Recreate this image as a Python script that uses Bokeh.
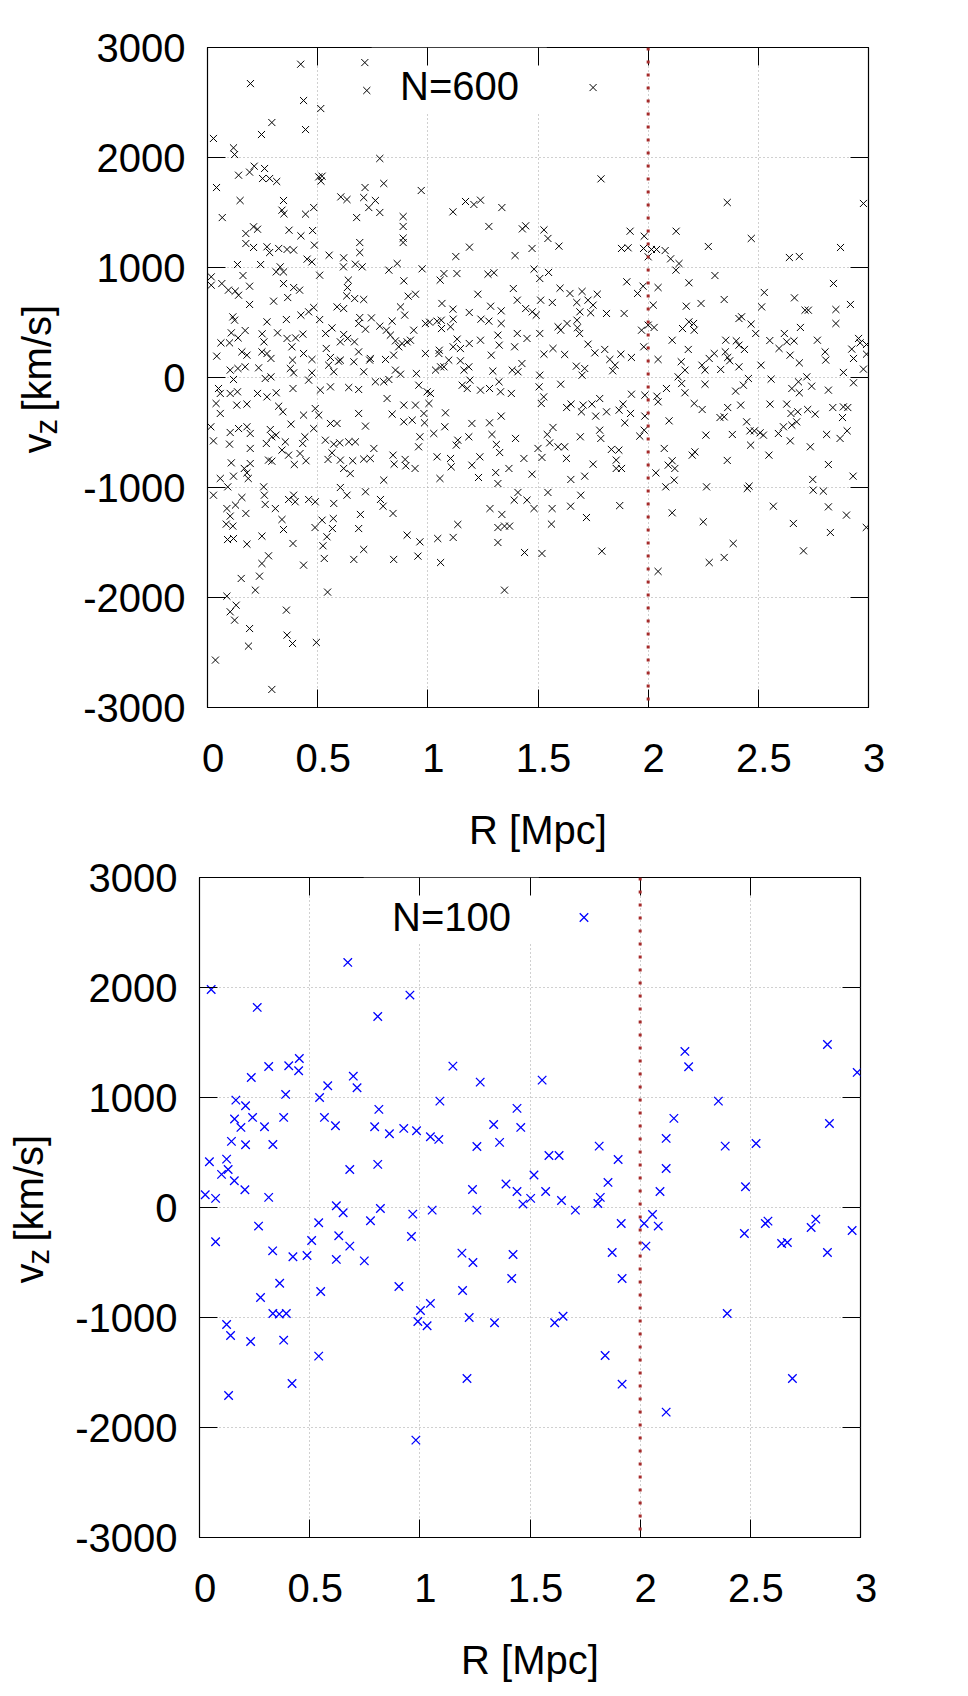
import math
from bokeh.plotting import figure
from bokeh.layouts import column, row
from bokeh.models import (Range1d, FixedTicker, CustomJSTickFormatter, LinearAxis,
                          Span, Label, BoxAnnotation)
from bokeh.embed import file_html
from bokeh.resources import INLINE

# ---------------- data ----------------
R_600 = [0.423,0.714,0.195,0.723,0.436,0.514,0.292,0.245,0.445,0.027,0.118,0.123,0.782,0.212,0.191,0.259,0.25,0.282,0.314,0.141,0.505,0.52,0.515,0.041,0.715,0.8,0.97,0.605,0.633,0.709,0.762,0.148,0.345,0.338,0.347,0.482,0.445,0.732,0.782,0.677,0.888,0.888,0.888,0.888,0.067,0.174,0.209,0.227,0.37,0.424,0.477,0.174,0.209,0.27,0.323,0.361,0.391,0.485,0.691,0.691,0.552,0.282,1.114,1.171,1.209,1.239,1.189,1.127,1.132,1.227,1.241,0.452,0.474,0.136,0.241,0.33,0.312,0.345,0.509,0.617,0.618,0.671,0.702,0.823,0.861,0.974,0.891,1.056,1.073,0.017,0.017,0.065,0.095,0.126,0.141,0.161,0.191,0.191,0.345,0.391,0.418,0.364,0.3,0.639,0.635,0.632,0.668,0.709,0.911,0.944,1.064,1.188,0.115,0.123,0.27,0.358,0.424,0.482,0.459,0.509,0.588,0.618,0.876,0.895,0.691,0.744,0.838,1.008,1.042,1.061,1.115,1.114,0.108,0.139,0.171,0.061,0.1,0.248,0.256,0.318,0.361,0.4,0.433,0.383,0.536,0.565,0.618,0.603,0.636,0.667,0.717,0.686,0.782,0.812,0.83,0.853,0.883,0.921,0.936,0.989,1.062,1.103,1.133,1.148,1.115,1.052,1.188,1.239,0.042,0.156,0.179,0.247,0.27,0.288,0.386,0.436,0.474,0.539,0.558,0.595,0.686,0.736,0.808,0.845,0.868,0.906,0.989,1.05,1.035,1.073,1.095,1.148,1.186,1.164,0.103,0.118,0.138,0.171,0.232,0.262,0.288,0.376,0.391,0.474,0.459,0.55,0.573,0.603,0.664,0.709,0.739,0.762,0.8,0.823,0.853,0.876,0.948,0.959,0.997,1.012,1.058,1.156,1.179,1.191,1.239,0.05,0.058,0.103,0.136,0.227,0.27,0.312,0.388,0.512,0.558,0.641,0.686,0.815,
         1.75,1.786,2.359,2.977,1.336,1.277,1.429,1.444,1.527,1.545,1.595,1.473,1.396,1.918,1.982,1.879,1.909,1.979,2.0,2.015,2.038,2.077,2.127,2.102,2.14,2.126,2.273,2.468,2.303,2.641,2.686,2.873,2.841,2.918,2.527,2.515,2.664,2.712,2.727,2.852,2.852,2.691,2.618,2.552,2.594,2.629,2.662,2.644,2.686,2.768,2.803,2.806,2.924,2.955,2.962,2.991,2.932,2.991,2.977,2.886,2.512,2.488,2.412,2.424,2.467,2.4,2.437,2.412,2.352,2.35,2.37,2.361,2.329,2.3,2.277,2.244,2.258,2.412,2.455,2.182,2.15,2.167,2.136,2.109,2.045,2.156,2.185,2.209,2.206,2.173,2.185,2.24,2.345,2.023,2.045,1.977,1.952,1.903,2.0,2.027,1.97,1.98,1.924,1.876,1.891,1.811,1.769,1.727,1.75,1.7,1.645,1.6,1.565,1.676,1.69,1.739,1.677,1.679,1.689,1.632,1.591,1.603,1.621,1.727,1.758,1.803,1.826,1.85,1.839,1.568,1.527,1.508,1.512,1.508,1.482,1.548,1.492,1.474,1.444,1.406,1.388,1.406,1.45,1.394,1.333,1.333,1.285,1.277,1.318,1.324,1.288,1.3,1.273,1.427,1.383,1.409,1.295,1.323,1.28,1.33,1.379,1.508,1.505,1.526,1.603,1.674,1.712,1.7,1.78,1.924,1.985,2.04,2.083,2.167,2.152,2.258,2.397,2.432,2.558,2.652,2.682,2.686,2.72,2.742,2.818,2.932,
         0.039,0.058,0.133,0.179,0.323,0.342,0.436,0.489,0.505,0.558,0.588,0.686,0.717,0.838,0.891,0.944,1.005,0.982,1.08,0.891,0.929,0.985,1.027,1.077,1.2,1.236,0.015,0.027,0.103,0.141,0.179,0.194,0.1,0.194,0.285,0.292,0.267,0.311,0.353,0.338,0.368,0.379,0.42,0.432,0.442,0.482,0.447,0.394,0.277,0.292,0.108,0.118,0.167,0.179,0.194,0.185,0.535,0.547,0.565,0.573,0.6,0.603,0.618,0.648,0.641,0.671,0.659,0.709,0.739,0.755,0.8,0.842,0.847,0.897,0.9,0.942,0.958,0.964,1.042,1.055,1.103,1.106,1.129,1.136,1.186,1.2,1.23,0.027,0.092,0.058,0.088,0.103,0.085,0.115,0.091,0.118,0.127,0.156,0.174,0.179,0.247,0.153,0.217,0.236,0.247,0.277,0.088,0.103,0.13,0.123,0.191,0.186,0.036,0.292,0.358,0.361,0.386,0.494,0.545,0.436,0.388,0.345,0.338,0.255,0.258,0.262,0.308,0.368,0.391,0.398,0.459,0.489,0.573,0.488,0.52,0.571,0.567,0.542,0.524,0.53,0.603,0.633,0.717,0.694,0.686,0.709,0.664,0.785,0.797,0.842,0.906,0.845,0.964,0.955,1.045,1.115,1.058,1.136,
         1.515,1.63,1.65,1.697,1.705,1.745,1.762,1.811,1.868,1.886,1.894,1.92,1.985,1.962,1.982,2.045,2.095,2.209,2.245,2.326,2.345,2.361,2.42,2.447,2.462,2.482,2.508,2.523,2.553,2.591,2.614,2.629,2.645,2.652,2.674,2.648,2.679,2.724,2.758,2.838,2.886,2.906,2.882,2.903,2.871,2.81,2.736,2.818,2.93,2.747,2.749,2.795,2.818,2.9,2.827,2.99,2.705,2.659,2.568,2.548,2.465,2.458,2.45,2.382,2.359,2.265,2.262,2.2,2.212,2.118,2.121,2.109,2.091,2.08,2.073,2.035,2.109,2.25,2.386,2.345,2.277,2.045,1.871,1.855,1.855,1.879,1.867,1.833,1.785,1.78,1.692,1.75,1.712,1.649,1.694,1.72,1.648,1.79,1.629,1.621,1.591,1.553,1.542,1.568,1.518,1.5,1.473,1.436,1.398,1.333,1.28,1.291,1.311,1.326,1.308,1.368,1.318,1.409,1.392,1.45,1.482,1.545,1.564,1.561,1.282,1.336,1.318,1.348,1.371,1.318,1.439,1.518,1.348]
VZ_600 = [2848,2863,2672,2609,2518,2445,2318,2209,2254,2173,2088,2027,1991,1921,1867,1900,1809,1809,1782,1839,1824,1830,1785,1727,1727,1764,1700,1642,1618,1636,1609,1609,1609,1521,1488,1545,1485,1545,1500,1454,1463,1373,1267,1227,1454,1309,1370,1348,1339,1288,1336,1218,1182,1188,1173,1164,1158,1203,1227,1136,1112,1136,1506,1600,1573,1612,1185,1100,945,757,530,1076,1051,1027,1027,1006,960,960,930,1006,1088,1030,1006,976,1036,988,879,885,945,915,839,854,794,785,748,927,830,664,854,818,794,727,694,885,818,742,718,709,739,757,673,591,551,521,506,527,567,636,597,527,642,627,642,567,545,542,512,503,512,521,530,621,406,360,427,315,315,397,324,406,355,360,394,279,400,451,391,324,355,324,439,491,467,430,385,333,309,339,430,491,445,461,349,263,279,248,309,339,194,233,203,233,218,173,158,218,164,264,182,148,233,158,164,203,279,324,218,218,67,97,158,152,97,67,67,-18,82,97,88,-9,6,82,42,42,-24,112,52,158,143,52,173,-39,-39,-18,67,30,36,-70,-130,-145,97,-70,-100,-24,-115,-100,-145,-145,-130,-145,-176,-139,-100,-115,-85,-91,-109,-191,
          2636,1806,1591,1582,1545,1373,1351,1379,1342,1264,1194,1173,1109,1330,1285,1173,1179,1173,1097,1164,1164,1154,1330,1079,1036,976,1191,1264,927,1091,1100,1182,855,664,773,642,724,612,612,618,491,455,400,336,264,324,333,203,133,339,233,158,258,355,315,300,173,212,76,46,112,400,536,552,485,333,255,294,339,233,152,182,73,218,173,112,67,97,-9,255,143,67,6,339,164,445,506,430,491,648,861,673,709,658,818,830,764,870,476,455,430,279,182,212,582,582,757,703,658,782,764,812,682,682,597,588,521,452,400,491,461,430,209,303,224,255,164,112,61,264,212,400,703,900,985,955,567,597,627,703,809,400,355,279,606,491,648,512,385,294,203,952,939,127,67,52,58,-39,-100,-130,-145,21,-85,-176,-61,103,82,21,-191,-152,-161,-170,-100,-139,-55,-61,-124,-70,-15,-100,-39,-139,6,-79,-115,-48,
          -236,-327,-251,-242,-261,-312,-342,-282,-342,-418,-418,-327,-442,-333,-251,-251,-236,-327,-321,-403,-388,-412,-509,-448,-418,-721,-448,-576,-500,-464,-448,-509,-606,-645,-473,-539,-600,-524,-585,-660,-706,-424,-691,-600,-539,-464,-757,-791,-751,-761,-776,-897,-827,-867,-782,-918,-570,-745,-685,-606,-594,-751,-827,-873,-585,-585,-757,-742,-736,-645,-933,-706,-788,-745,-803,-827,-630,-539,-721,-918,-736,-812,-615,-570,-539,-797,-909,-1070,-994,-918,-1191,-1260,-1333,-1351,-1473,-1464,-1160,-1091,-1236,-1515,-1442,-1827,-1933,-1806,-1691,-1621,-1988,-2130,-2070,-2206,-2282,-2442,-2569,-2836,-2115,-2342,-2418,-2409,-1951,-1706,-1509,-1382,-1291,-994,-1070,-1154,-1191,-1109,-1070,-1130,-1109,-1130,-1145,-1364,-1297,-1282,-1373,-1448,-1530,-1645,-1000,-1070,-1039,-1245,-1373,-1563,-1654,-1109,-1170,-1236,-1433,-1654,-1494,-1624,-1464,-1454,-1682,-1336,
          -236,-273,-242,-312,-251,-242,-351,-312,-297,-242,-412,-327,-351,-533,-479,-221,-394,-236,-291,-364,-358,-273,-251,-403,-485,-485,-503,-524,-242,-509,-448,-242,-576,-433,-403,-327,-312,-291,-333,-273,-267,-273,-364,-485,-554,-518,-630,-791,-897,-927,-1024,-1033,-1176,-1251,-1409,-1363,-1576,-1327,-1170,-706,-615,-988,-1009,-518,-754,-994,-524,-706,-676,-933,-827,-757,-797,-994,-645,-867,-1230,-1312,-1509,-1636,-1682,-1763,-1164,-751,-827,-827,-660,-654,-554,-479,-539,-788,-897,-927,-1070,-1273,-1170,-1579,-736,-630,-630,-594,-518,-454,-727,-645,-879,-736,-554,-351,-412,-518,-609,-682,-864,-827,-964,-1045,-1115,-1115,-1191,-1045,-1191,-1333,-1191,-1245,-1364,-1351,-1351,-1500,-1591,-1600,-1933]

R_100 = [0.673,0.053,0.262,0.955,0.809,0.453,0.45,0.405,0.314,0.235,0.391,0.165,0.209,0.698,0.715,0.582,0.545,1.15,1.274,1.555,1.091,0.814,0.159,0.241,0.188,0.295,0.382,0.145,0.209,0.333,0.045,0.123,0.13,0.1,0.158,0.206,0.026,0.073,0.314,0.567,0.617,0.795,0.862,0.927,0.985,1.048,1.086,1.259,1.335,1.362,1.441,1.458,0.682,0.809,1.239,1.391,1.441,1.518,1.503,1.468,0.621,0.652,0.821,0.968,1.056,1.259,
         1.745,2.203,2.22,2.85,2.985,2.355,2.153,2.859,2.118,2.386,2.526,1.586,1.632,1.814,1.9,2.118,1.854,1.571,2.09,2.478,1.643,1.819,1.808,1.706,2.056,
         0.541,0.776,0.268,0.073,0.332,0.424,0.488,0.509,0.632,0.682,0.621,0.748,0.962,1.191,1.241,1.423,1.417,0.364,0.277,0.55,0.905,1.194,0.333,0.362,0.394,0.123,0.141,0.232,0.382,1.003,1.048,0.991,1.033,1.224,1.339,0.541,0.42,0.132,1.214,0.982,
         1.914,2.018,2.082,2.026,1.873,1.918,2.473,2.568,2.58,2.642,2.668,2.776,2.797,2.85,2.962,1.612,1.65,2.395,1.841,1.918,2.118,2.691]
VZ_100 = [2228,1982,1819,1931,1737,1355,1243,1288,1282,1182,1028,976,925,1194,1088,1107,1000,1285,1140,1158,967,892,804,819,728,734,819,601,570,573,416,440,346,301,243,161,116,83,92,819,743,734,670,719,698,643,619,555,755,592,901,728,346,392,164,213,146,295,83,31,16,-48,-9,-60,-24,-24,
          2637,1419,1279,1482,1228,967,810,764,628,558,582,473,473,558,437,355,228,146,146,189,64,92,37,-24,-63,
          -139,-121,-169,-312,-394,-448,-436,-300,-257,-351,-472,-485,-263,-415,-500,-427,-645,-688,-818,-763,-718,-754,-963,-969,-963,-1063,-1163,-1218,-1206,-936,-872,-1036,-1075,-1000,-1048,-1351,-1600,-1709,-1554,-2115,
          -145,-145,-169,-351,-409,-645,-236,-145,-124,-327,-318,-182,-106,-409,-209,-1048,-988,-963,-1345,-1606,-1860,-1554]

R_TICKS = [0, 0.5, 1, 1.5, 2, 2.5, 3]
VZ_TICKS = [-3000, -2000, -1000, 0, 1000, 2000, 3000]
R_RANGE = (0, 3)
VZ_RANGE = (-3000, 3000)
R_CUT = 2.0
X_LABEL = "R [Mpc]"
Y_LABEL_MAIN = "v"
Y_LABEL_SUB = "z"
Y_LABEL_UNIT = "[km/s]"

FONT = "Liberation Sans"
FMT_X = "return '\\u00a0' + tick.toString()"
FMT_Y = "return tick.toString()"
LAB_W = 70       # width of the strip that holds the rotated y label
FRAME_H = 660    # plot frame height in px


def panel(xs, ys, color, msize, mwidth, title, title_y, b_left, b_top, b_right, height):
    p = figure(width=850, height=height,
               x_range=Range1d(*R_RANGE), y_range=Range1d(*VZ_RANGE),
               output_backend="svg", toolbar_location=None,
               min_border_left=b_left, min_border_top=b_top,
               min_border_right=b_right, min_border_bottom=150)
    p.background_fill_color = "white"
    p.border_fill_color = "white"
    p.outline_line_color = "black"
    p.outline_line_width = 1.2

    for g, ticks in ((p.xgrid, R_TICKS), (p.ygrid, VZ_TICKS)):
        g.ticker = FixedTicker(ticks=ticks)
        g.grid_line_color = "#a0a0a0"
        g.grid_line_dash = "1 3"
        g.grid_line_width = 1

    # opaque key area (no grid behind the N= label)
    p.add_layout(BoxAnnotation(left=0.745, right=1.54, bottom=2400, top=3000,
                               fill_color="white", fill_alpha=1.0,
                               line_color=None, level="underlay"))

    xa = p.xaxis[0]
    xa.ticker = FixedTicker(ticks=R_TICKS)
    xa.formatter = CustomJSTickFormatter(code=FMT_X)
    xa.axis_label = X_LABEL
    xa.axis_label_text_font = FONT
    xa.axis_label_text_font_size = "40px"
    xa.axis_label_text_font_style = "normal"
    xa.axis_label_text_color = "black"
    xa.axis_label_standoff = 25
    xa.major_label_standoff = 28

    ya = p.yaxis[0]
    ya.ticker = FixedTicker(ticks=VZ_TICKS)
    ya.formatter = CustomJSTickFormatter(code=FMT_Y)
    ya.major_label_standoff = 22

    for ax in (xa, ya):
        ax.major_label_text_font = FONT
        ax.major_label_text_font_size = "40px"
        ax.major_label_text_color = "black"
        ax.axis_line_color = "black"
        ax.major_tick_in = 18
        ax.major_tick_out = 0
        ax.major_tick_line_color = "black"
        ax.minor_tick_line_color = None

    # mirrored ticks on top and right (no labels)
    for place, ticks in (("above", R_TICKS), ("right", VZ_TICKS)):
        m = LinearAxis(ticker=FixedTicker(ticks=ticks),
                       major_label_text_color=None, major_label_standoff=0,
                       major_label_text_font_size="10px",
                       axis_line_color=None, major_tick_in=18, major_tick_out=0,
                       major_tick_line_color="black", minor_tick_line_color=None)
        p.add_layout(m, place)

    p.scatter(xs, ys, marker="x", size=msize, line_color=color, line_width=mwidth)

    p.add_layout(Span(location=R_CUT, dimension="height", line_color="#a52a2a",
                      line_width=3, line_dash="3 10"))

    p.add_layout(Label(x=1.144, y=title_y, text=title, text_font=FONT,
                       text_font_size="40px", text_align="center",
                       text_baseline="middle", text_color="black"))
    return p


def ylabel_strip(height, b_top, base_x):
    # narrow canvas whose frame matches the plot frame (1 data unit = 1 px)
    f = figure(width=LAB_W, height=height, x_range=Range1d(0, LAB_W),
               y_range=Range1d(0, FRAME_H), output_backend="svg",
               toolbar_location=None, x_axis_type=None, y_axis_type=None,
               min_border_left=0, min_border_right=0, min_border_top=b_top,
               min_border_bottom=height - b_top - FRAME_H)
    f.outline_line_color = None
    f.border_fill_color = "white"
    f.background_fill_color = "white"
    f.grid.visible = False
    rot = math.pi / 2
    # centre-anchored pieces: main "v", subscript "z", then the unit
    pieces = [(Y_LABEL_MAIN, "40px", base_x, 264.0),
              (Y_LABEL_SUB, "31px", base_x + 10.2, 280.8),
              (Y_LABEL_UNIT, "40px", base_x, 349.3)]
    for txt, fs, x, y in pieces:
        f.add_layout(Label(x=x, y=y, text=txt, angle=rot, text_font=FONT,
                           text_font_size=fs, text_align="center",
                           text_baseline="middle", text_color="black"))
    return f


p1 = panel(R_600, VZ_600, "black", 10, 1, "N=600", 2654, 207 - LAB_W, 47, 52, 857)
p2 = panel(R_100, VZ_100, "#0000ff", 12, 1.3, "N=100", 2645, 199 - LAB_W, 20, 60, 830)
s1 = ylabel_strip(857, 47, 36.1)
s2 = ylabel_strip(830, 20, 28.1)

layout = column(row(s1, p1, spacing=0), row(s2, p2, spacing=0), spacing=0)
open("out.html", "w").write(file_html(layout, INLINE))
